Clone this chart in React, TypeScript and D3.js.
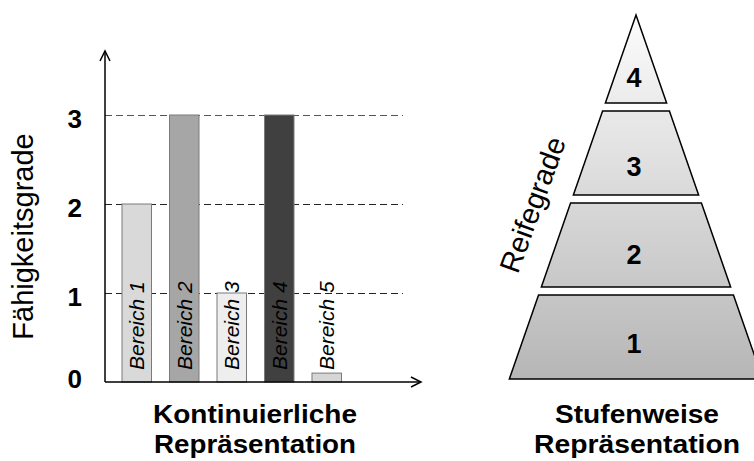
import React from "react";
import * as d3 from "d3";

const categories = ["Bereich 1", "Bereich 2", "Bereich 3", "Bereich 4", "Bereich 5"];
const values = [2, 3, 1, 3, 0.1];
const barColors = ["#d9d9d9", "#a6a6a6", "#eeeeee", "#404040", "#d6d6d6"];
const yTicks = [0, 1, 2, 3];
const pyramidLevels = [1, 2, 3, 4];

const FONT = "Arial, 'Liberation Sans', Helvetica, sans-serif";

export default function App() {
  const W = 754, H = 461;
  const x0 = 105, y0 = 382;
  const x = d3.scaleBand<string>().domain(categories).range([122, 341.5]).paddingInner(0.379).paddingOuter(0);
  const y = d3.scaleLinear().domain([0, 3]).range([y0, 115]);

  // pyramid
  const apexX = 636, apexY = 15, slope = 0.348, gap = 8;
  const py = d3.scaleLinear().domain([0, 4]).range([379, 11]);
  const labelY = d3.scaleLinear().domain([1, 4]).range([343, 77]);
  const half = (yy: number) => (yy - apexY) * slope;
  const line = d3.line<[number, number]>();

  return (
    <svg width={W} height={H} style={{ position: "absolute", left: 0, top: 0 }} fontFamily={FONT}>
      <defs>
        <linearGradient id="pyrGrad" gradientUnits="userSpaceOnUse" x1="0" y1={apexY} x2="0" y2={379}>
          <stop offset="0" stopColor="#fcfcfc" />
          <stop offset="1" stopColor="#b6b6b6" />
        </linearGradient>
      </defs>
      <rect width={W} height={H} fill="#fff" />

      {/* gridlines */}
      {yTicks.filter((t) => t > 0).map((t) => (
        <line key={t} x1={x0} x2={403} y1={y(t) + 0.5} y2={y(t) + 0.5} stroke={t === 3 ? "#555" : "#222"}
          strokeWidth={1} strokeDasharray="7,4" />
      ))}

      {/* bars */}
      {categories.map((c, i) => (
        <rect key={c} x={x(c)} y={y(values[i])} width={x.bandwidth()} height={y0 - y(values[i])}
          fill={barColors[i]} stroke="#7a7a7a" strokeWidth={1} />
      ))}
      {categories.map((c) => (
        <text key={c} transform={`translate(${(x(c) as number) + x.bandwidth() / 2 + 7.5},370) rotate(-90)`}
          fontSize={21} fontStyle="italic" fill="#000">{c}</text>
      ))}

      {/* axes */}
      <line x1={x0} x2={x0} y1={y0} y2={52} stroke="#000" strokeWidth={1.5} />
      <path d={`M${x0 - 5},${61} L${x0},${51} L${x0 + 5},${61}`} fill="none" stroke="#000" strokeWidth={1.5} />
      <line x1={x0} x2={420} y1={y0} y2={y0} stroke="#000" strokeWidth={1.5} />
      <path d={`M${411},${y0 - 5} L${421},${y0} L${411},${y0 + 5}`} fill="none" stroke="#000" strokeWidth={1.5} />

      {/* y ticks */}
      {yTicks.map((t) => (
        <text key={t} x={82} y={t === 0 ? 388 : y(t) + 12.5} textAnchor="end" fontSize={26} fontWeight="bold">{t}</text>
      ))}
      <text transform={`translate(33,236.5) rotate(-90)`} textAnchor="middle" fontSize={29}>Fähigkeitsgrade</text>

      <text x={255} y={423} textAnchor="middle" fontSize={26.5} fontWeight="bold" textLength={204} lengthAdjust="spacingAndGlyphs">Kontinuierliche</text>
      <text x={255} y={453} textAnchor="middle" fontSize={26.5} fontWeight="bold" textLength={202} lengthAdjust="spacingAndGlyphs">Repräsentation</text>

      {/* pyramid */}
      {pyramidLevels.map((lv) => {
        const yb = py(lv - 1);
        const isTop = lv === pyramidLevels.length;
        const yt = isTop ? apexY : py(lv) + gap;
        const pts: [number, number][] = isTop
          ? [[apexX, yt], [apexX + half(yb), yb], [apexX - half(yb), yb]]
          : [[apexX - half(yt), yt], [apexX + half(yt), yt], [apexX + half(yb), yb], [apexX - half(yb), yb]];
        return (
          <path key={lv} d={line(pts) + "Z"} fill="url(#pyrGrad)" stroke="#000" strokeWidth={1.5} strokeLinejoin="miter" />
        );
      })}
      {pyramidLevels.map((lv) => (
        <text key={lv} x={apexX - 2} y={labelY(lv) + 10} textAnchor="middle" fontSize={27} fontWeight="bold">{lv}</text>
      ))}
      <text transform={`translate(542,208) rotate(-70)`} textAnchor="middle" fontSize={29}>Reifegrade</text>

      <text x={637} y={423} textAnchor="middle" fontSize={26.5} fontWeight="bold" textLength={164} lengthAdjust="spacingAndGlyphs">Stufenweise</text>
      <text x={637} y={453} textAnchor="middle" fontSize={26.5} fontWeight="bold" textLength={206} lengthAdjust="spacingAndGlyphs">Repräsentation</text>
    </svg>
  );
}
